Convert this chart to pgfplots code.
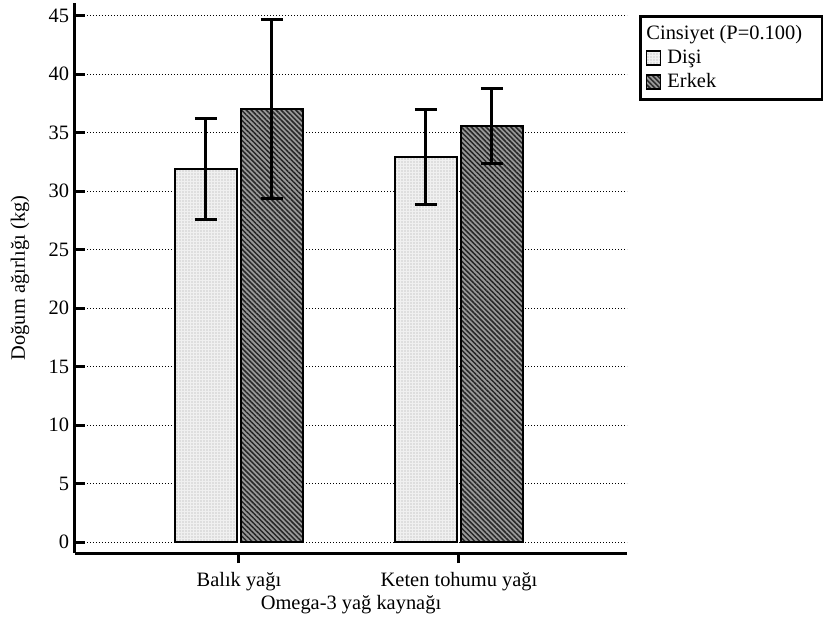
\documentclass[border=0pt]{standalone}
\usepackage{fontspec}
\setmainfont{Liberation Serif}
\usepackage{pgfplots}
\pgfplotsset{compat=1.18}
\usetikzlibrary{patterns.meta}
\begin{document}
\fontsize{20.5}{23}\selectfont
\begin{tikzpicture}
\useasboundingbox (-75bp,-68bp) rectangle (748bp,553bp);
\begin{axis}[
  scale only axis,
  width=552bp, height=550bp,
  at={(0,0)}, anchor=south west,
  xmin=-0.745, xmax=1.7636,
  ymin=-0.94, ymax=46.09,
  axis x line=bottom, axis y line=left,
  axis line style={line width=3bp, -},
  tick align=inside,
  major tick length=10bp,
  tick style={line width=3bp, black},
  xtick={0,1},
  xticklabels={Balık yağı, Keten tohumu yağı},
  ytick={0,5,...,45},
  ymajorgrids,
  major grid style={black, line width=1bp, dash pattern=on 1bp off 2bp},
  /pgf/number format/assume math mode=true,
  ticklabel style={font=\fontsize{20.5}{23}\selectfont},
  xticklabel style={yshift=-2bp},
  yticklabel style={xshift=1bp},
  xlabel={Omega-3 yağ kaynağı},
  ylabel={Doğum ağırlığı (kg)},
  every axis x label/.style={at={(axis description cs:0.5,-0.094)}, anchor=center},
  every axis y label/.style={at={(axis description cs:-0.0996,0.5)}, rotate=90, anchor=center},
  label style={font=\fontsize{20.5}{23}\selectfont},
  ybar, bar width=62bp,
  error bars/y dir=both, error bars/y explicit,
  error bars/error bar style={line width=3bp, black},
  error bars/error mark options={rotate=90, mark size=11bp, line width=3bp, black},
  legend style={at={(axis description cs:1.0217,0.978)}, anchor=north west,
    draw=black, line width=3bp, font=\fontsize{20.5}{23}\selectfont,
    inner xsep=4bp, inner ysep=7bp, row sep=3bp, cells={anchor=west}},
  legend cell align=left,
  legend image code/.code={\draw[#1, line width=1.5bp] (2bp,-7bp) rectangle (16bp,7bp); \path (20bp,0bp);},
  clip=false,
]
\addlegendimage{empty legend}
\addlegendentry{\hspace{-21bp}Cinsiyet (P=0.100)\rule{14bp}{0pt}}
\addplot[bar shift=-33bp, draw=black, line width=2bp, fill=black!6,
  postaction={pattern={Dots[distance=3bp, radius=0.55bp]}, pattern color=black!35}]
  coordinates {(0,31.9) +- (0,4.3) (1,32.9) +- (0,4.05)};
\addlegendentry{Dişi}
\addplot[bar shift=33bp, draw=black, line width=2bp, fill=black!40,
  postaction={pattern={Lines[angle=-45, distance=3.5bp, line width=1.5bp]}, pattern color=black!85}]
  coordinates {(0,37.0) +- (0,7.64) (1,35.6) +- (0,3.2)};
\addlegendentry{Erkek}
\end{axis}
\end{tikzpicture}
\end{document}
